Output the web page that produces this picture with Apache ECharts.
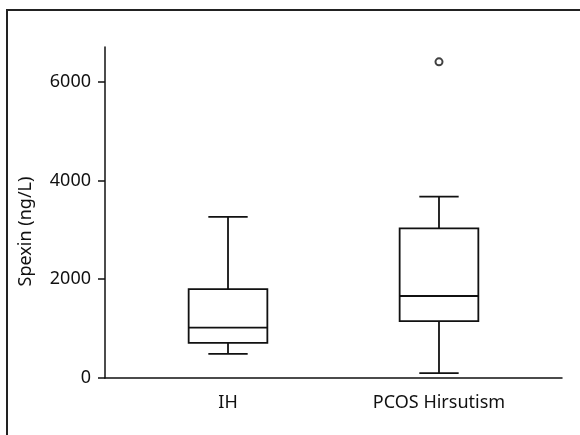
<!DOCTYPE html>
<html>
<head>
<meta charset="utf-8">
<script src="https://cdn.jsdelivr.net/npm/echarts@6/dist/echarts.min.js"></script>
<style>
  html, body { margin: 0; padding: 0; background: #fff; }
  #chart { width: 580px; height: 435px; }
</style>
</head>
<body>
<div id="chart"></div>
<script>
// groups and box statistics (ng/L)
const categories = ['IH', 'PCOS Hirsutism']
const whiskerLow = [490, 100]
const q1 = [710, 1150]
const median = [1020, 1660]
const q3 = [1800, 3030]
const whiskerHigh = [3260, 3670]
// outliers: [group index, value]
const outliers = [[1, 6400]]
const yTicks = [0, 2000, 4000, 6000]

const ink = '#111'
const font = 'Noto Sans'

let boxData = categories.map((c, i) => [i, whiskerLow[i], q1[i], median[i], q3[i], whiskerHigh[i]])

function renderBox (params, api) {
  let x = api.value(0)
  let pLow = api.coord([x, api.value(1)])
  let pQ1 = api.coord([x, api.value(2)])
  let pMed = api.coord([x, api.value(3)])
  let pQ3 = api.coord([x, api.value(4)])
  let pHigh = api.coord([x, api.value(5)])
  let w = api.size([0.373, 0])[0] // box width
  let half = w / 2
  let cap = w / 4
  let cx = pMed[0]
  let style = { stroke: ink, lineWidth: 1.8, fill: null }
  return {
    type: 'group',
    children: [
      { type: 'line', shape: { x1: cx, y1: pHigh[1], x2: cx, y2: pQ3[1] }, style: style },
      { type: 'line', shape: { x1: cx - cap, y1: pHigh[1], x2: cx + cap, y2: pHigh[1] }, style: style },
      { type: 'line', shape: { x1: cx, y1: pLow[1], x2: cx, y2: pQ1[1] }, style: style },
      { type: 'line', shape: { x1: cx - cap, y1: pLow[1], x2: cx + cap, y2: pLow[1] }, style: style },
      { type: 'rect', shape: { x: cx - half, y: pQ3[1], width: w, height: pQ1[1] - pQ3[1] }, style: { stroke: ink, lineWidth: 1.8, fill: '#fff' } },
      { type: 'line', shape: { x1: cx - half, y1: pMed[1], x2: cx + half, y2: pMed[1] }, style: style }
    ]
  }
}

let chart = echarts.init(document.getElementById('chart'))

let opt = {
  animation: false,
  backgroundColor: '#fff',
  textStyle: { fontFamily: font, color: ink },
  graphic: [{
    type: 'rect',
    shape: { x: 7, y: 10, width: 600, height: 460 },
    style: { fill: null, stroke: '#222', lineWidth: 2 },
    silent: true
  }],
  grid: { left: 105, right: 18, top: 47, bottom: 57 },
  xAxis: {
    type: 'value',
    min: -0.583,
    max: 1.583,
    splitLine: { show: false },
    axisLine: { onZero: false, lineStyle: { color: ink, width: 1.5 } },
    axisTick: { show: false },
    axisLabel: {
      customValues: [0, 1],
      formatter: (v) => categories[Math.round(v)],
      fontFamily: font,
      fontSize: 18,
      color: ink,
      margin: 16
    }
  },
  yAxis: {
    type: 'value',
    min: 0,
    max: 6700,
    name: 'Spexin (ng/L)',
    nameLocation: 'middle',
    nameGap: 70,
    nameTextStyle: { fontFamily: font, fontSize: 18, color: ink, padding: [0, 38, 0, 0] },
    splitLine: { show: false },
    axisLine: { show: true, onZero: false, lineStyle: { color: ink, width: 1.5 } },
    axisTick: { show: true, length: 7, customValues: yTicks, lineStyle: { color: ink, width: 1.5 } },
    axisLabel: {
      customValues: yTicks,
      formatter: (v) => String(v),
      fontFamily: font,
      fontSize: 18,
      color: ink,
      margin: 14
    }
  },
  series: [{
    type: 'custom',
    name: 'box',
    renderItem: renderBox,
    encode: { x: 0, y: [1, 2, 3, 4, 5] },
    data: boxData
  }, {
    type: 'scatter',
    name: 'outliers',
    symbol: 'emptyCircle',
    symbolSize: 7,
    itemStyle: { color: ink, borderColor: ink, borderWidth: 1.5 },
    data: outliers
  }]
}

chart.setOption(opt)
</script>
</body>
</html>
